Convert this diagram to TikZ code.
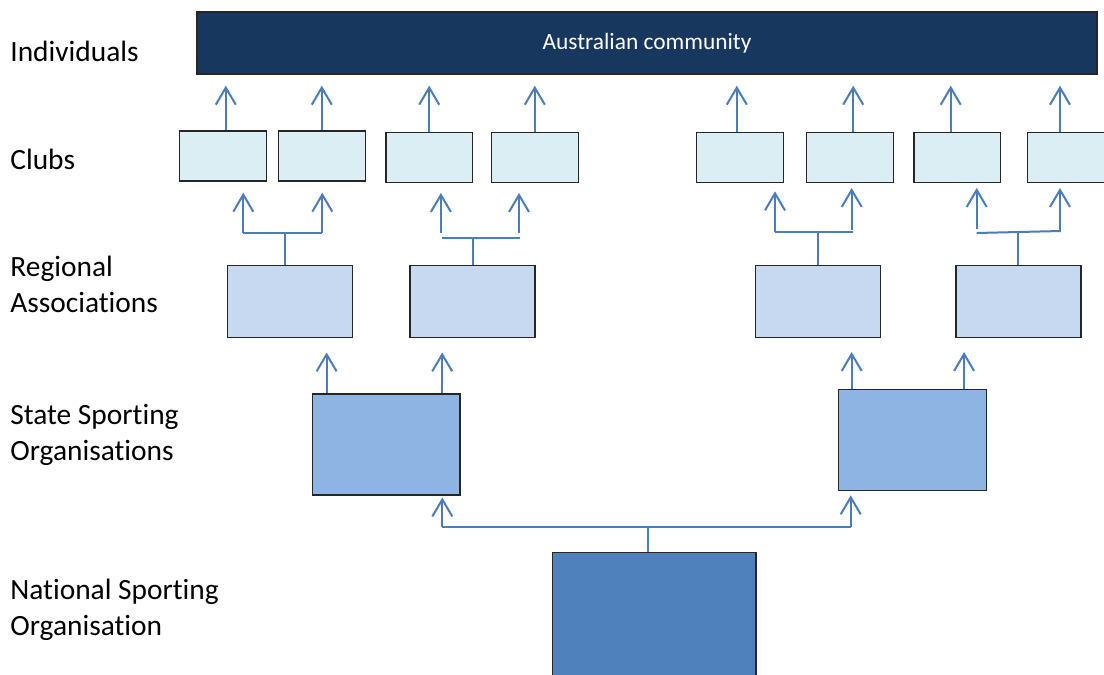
\documentclass[tikz,border=0pt]{standalone}
\usepackage{fontspec}
\setmainfont{Carlito}[Ligatures=NoCommon]
\usepackage{xcolor}
\usepackage{tikz}
\usetikzlibrary{arrows.meta}

\definecolor{navy}{HTML}{17375E}
\definecolor{clubfill}{HTML}{DBEEF4}
\definecolor{regionfill}{HTML}{C6D9F1}
\definecolor{statefill}{HTML}{8EB4E3}
\definecolor{nationfill}{HTML}{4F81BD}
\definecolor{arrowblue}{HTML}{4A7EBB}

\begin{document}
\begin{tikzpicture}[x=0.5pt,y=-0.5pt,
  box/.style={rectangle,draw=black!85,line width=0.7pt,inner sep=0pt},
  club/.style={box,fill=clubfill,minimum width=43.4pt,minimum height=25pt},
  region/.style={box,fill=regionfill,minimum width=62.5pt,minimum height=35.8pt},
  statebox/.style={box,fill=statefill,minimum width=73.8pt,minimum height=50.5pt},
  nation/.style={box,fill=nationfill,minimum width=101.9pt,minimum height=80pt},
  level/.style={anchor=base west,align=left,inner sep=0pt,font=\fontsize{14.7pt}{18pt}\selectfont},
  link/.style={draw=arrowblue,line width=1pt},
  uparrow/.style={link,-{Straight Barb[length=8.5pt,width=10pt]}}]
\useasboundingbox (0,0) rectangle (1104,675);

% level names
\node [level] (individuals) at (10,61.7) {Individuals};
\node [level] (clubs) at (10,169) {Clubs};
\node [level] (regional) at (10,312.3) {Regional\\Associations};
\node [level] (state) at (10,460) {State Sporting\\Organisations};
\node [level] (national) at (10,635) {National Sporting\\Organisation};

% boxes
\node [box,fill=navy,minimum width=450pt,minimum height=31pt,text=white,font=\fontsize{11.7pt}{14pt}\selectfont] (community) at (647,43) {\raisebox{1.6pt}{Australian community}};
\node [club] (c1) at (222.8,156) {};
\node [club] (c2) at (321.8,156) {};
\node [club] (c3) at (429.2,157.3) {};
\node [club] (c4) at (534.8,157.3) {};
\node [club] (c5) at (740,157.3) {};
\node [club] (c6) at (850,157.3) {};
\node [club] (c7) at (957.3,157.3) {};
\node [club] (c8) at (1071,157.3) {};
\node [region] (r1) at (290.2,301.5) {};
\node [region] (r2) at (472.5,301.5) {};
\node [region] (r3) at (818,301.5) {};
\node [region] (r4) at (1018.3,301.5) {};
\node [statebox] (s1) at (386.2,444.5) {};
\node [statebox] (s2) at (912.5,439.7) {};
\node [nation] (n) at (654.2,632.3) {};

% clubs to community
\draw ([xshift=1.5pt]c1.north)[uparrow,shorten >=5.5pt] -- ([xshift=1.5pt]c1.north |- community.south);
\draw (c2.north)[uparrow,shorten >=5.5pt] -- (c2.north |- community.south);
\draw (c3.north)[uparrow,shorten >=5.5pt] -- (c3.north |- community.south);
\draw (c4.north)[uparrow,shorten >=5.5pt] -- (c4.north |- community.south);
\draw ([xshift=-1.6pt]c5.north)[uparrow,shorten >=5.5pt] -- ([xshift=-1.6pt]c5.north |- community.south);
\draw ([xshift=1.6pt]c6.north)[uparrow,shorten >=5.5pt] -- ([xshift=1.6pt]c6.north |- community.south);
\draw ([xshift=-3.3pt]c7.north)[uparrow,shorten >=5.5pt] -- ([xshift=-3.3pt]c7.north |- community.south);
\draw ([xshift=-5.5pt]c8.north)[uparrow,shorten >=5.5pt] -- ([xshift=-5.5pt]c8.north |- community.south);

% regional associations to clubs
\coordinate (j1l) at (243.3,233);
\coordinate (j1r) at (322.3,233);
\draw ([xshift=-2.6pt]r1.north)[link] -- ([xshift=-2.6pt]r1.north |- j1l);
\draw (j1l)[link] -- (j1r);
\draw (j1l)[uparrow,shorten >=5.5pt] -- (j1l |- c1.south);
\draw (j1r)[uparrow,shorten >=5.5pt] -- (j1r |- c2.south);

\coordinate (j2l) at (442.3,237.7);
\coordinate (j2r) at (520,237.7);
\draw (r2.north)[link] -- (r2.north |- j2l);
\draw (j2l)[link] -- (j2r);
\draw ([xshift=-0.7pt,yshift=2.3pt]j2l)[uparrow,shorten >=5pt] -- ([xshift=-0.7pt]j2l |- c3.south);
\draw ([xshift=-0.5pt,yshift=2.3pt]j2r)[uparrow,shorten >=5pt] -- ([xshift=-0.5pt]j2r |- c4.south);

\coordinate (j3l) at (775,232.3);
\coordinate (j3r) at (853.3,232.3);
\draw (r3.north)[link] -- (r3.north |- j3l);
\draw (j3l)[link] -- (j3r);
\draw (j3l)[uparrow,shorten >=4.2pt] -- (j3l |- c5.south);
\draw ([xshift=-0.8pt,yshift=1pt]j3r)[uparrow,shorten >=2.5pt] -- ([xshift=-0.8pt]j3r |- c6.south);

\coordinate (j4l) at (976.7,233);
\coordinate (j4r) at (1061,231);
\draw (r4.north)[link] -- (r4.north |- 0,232);
\draw (j4l)[link] -- (j4r);
\draw ([yshift=2pt]j4l)[uparrow,shorten >=2.5pt] -- (j4l |- c7.south);
\draw ([xshift=-0.5pt]j4r)[uparrow,shorten >=2.5pt] -- ([xshift=-0.5pt]j4r |- c8.south);

% state organisations to regional associations
\draw ([xshift=-29.8pt]s1.north)[uparrow,shorten >=7.2pt] -- ([xshift=-29.8pt]s1.north |- r1.south);
\draw ([xshift=28pt]s1.north)[uparrow,shorten >=7.2pt] -- ([xshift=28pt]s1.north |- r2.south);
\draw ([xshift=-30.4pt]s2.north)[uparrow,shorten >=7pt] -- ([xshift=-30.4pt]s2.north |- r3.south);
\draw ([xshift=25.8pt]s2.north)[uparrow,shorten >=7pt] -- ([xshift=25.8pt]s2.north |- r4.south);

% national organisation to state organisations
\coordinate (jnl) at (442.3,527.3);
\coordinate (jnr) at (850.7,527.3);
\draw ([xshift=-2.95pt]n.north)[link] -- ([xshift=-2.95pt]n.north |- jnl);
\draw (jnl)[link] -- (jnr);
\draw (jnl)[uparrow,shorten >=0.9pt] -- (jnl |- s1.south);
\draw (jnr)[uparrow,shorten >=2.2pt] -- (jnr |- s2.south);
\end{tikzpicture}
\end{document}
